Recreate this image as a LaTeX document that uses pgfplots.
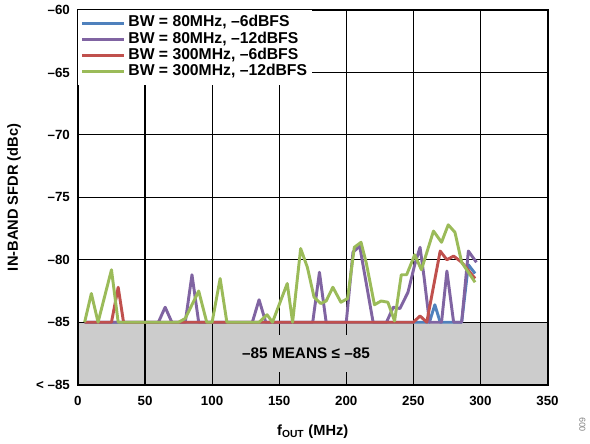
\documentclass[border=0pt]{standalone}
\usepackage{fontspec}
\setmainfont{Liberation Sans}
\usepackage{pgfplots}
\pgfplotsset{compat=1.18}
\definecolor{cblue}{HTML}{4F81BD}
\definecolor{cpurple}{HTML}{8064A2}
\definecolor{cred}{HTML}{C0504D}
\definecolor{cgreen}{HTML}{9BBB59}
\definecolor{shade}{HTML}{CCCCCC}
\begin{document}
\begin{tikzpicture}
\begin{axis}[
  set layers=standard,
  at={(0,0)}, anchor=south west,
  scale only axis, width=352.5pt, height=281.25pt,
  xmin=0, xmax=350, ymin=-90, ymax=-60,
  xtick={0,50,...,350}, xticklabels={0,50,100,150,200,250,300,350},
  ytick={-90,-85,...,-60}, yticklabels={< –85,–85,–80,–75,–70,–65,–60},
  tick align=inside, major tick length=9pt,
  tick style={black, line width=0.9pt},
  grid=major, major grid style={black, line width=0.9pt},
  axis line style={black, line width=1.5pt},
  ticklabel style={font=\bfseries\fontsize{10}{12}\selectfont},
  xticklabel style={yshift=-5pt},
  yticklabel style={xshift=-2.5pt},
  xlabel={f\textsubscript{OUT} (MHz)},
  ylabel={IN-BAND SFDR (dBc)},
  label style={font=\bfseries\fontsize{11}{13}\selectfont},
  xlabel style={at={(axis description cs:0.5,0)}, anchor=center, yshift=-35.25pt},
  ylabel style={at={(axis description cs:0,0.5)}, anchor=center, rotate=0, yshift=48pt},
  legend style={at={(0,1)}, anchor=north west, draw=none, fill=white,
    inner xsep=2pt, inner ysep=3.5pt,
    font=\bfseries\fontsize{11.8}{12.5}\selectfont,
    nodes={text height=7.8pt, text depth=2pt, inner ysep=1.2pt, inner xsep=2pt},
    cells={anchor=west}},
  legend image code/.code={\draw[#1] (0pt,0pt) -- (31.5pt,0pt);},
  ser/.style={line width=2.2pt, line join=round, mark=none},
]
\addplot[fill=shade, draw=none, on layer=axis background, forget plot]
  coordinates {(0,-90)(350,-90)(350,-85)(0,-85)} -- cycle;

% BW = 80 MHz, -6 dBFS
\addplot[ser, color=cblue] coordinates {
(5,-85)(60,-85)(120,-85)(200,-85)(262,-85)(266,-83.6)(270,-85)(286,-85)(291,-80.4)(296,-81.1)
};
\addlegendentry{BW = 80MHz, –6dBFS}
% BW = 80 MHz, -12 dBFS
\addplot[ser, color=cpurple] coordinates {
(5,-85)(60,-85)(65,-83.8)(70,-85)(80,-85)(85,-81.2)(90,-85)(130,-85)(135,-83.2)(140,-85)
(175,-85)(180,-81.0)(185,-85)(200,-85)(205,-79.4)(210,-78.9)(220,-85)(230,-85)(235,-83.8)
(240,-83.9)(246,-82.6)(251,-80.4)(255,-79.0)(258,-81.4)(262,-85)(271,-85)(275,-80.9)(280,-85)
(286,-85)(291,-79.3)(297,-80.2)
};
\addlegendentry{BW = 80MHz, –12dBFS}
% BW = 300 MHz, -6 dBFS
\addplot[ser, color=cred] coordinates {
(5,-85)(25,-85)(30,-82.2)(34,-85)(120,-85)(250,-85)(255,-84.5)(260,-85)(270,-79.3)(275,-80.0)
(280,-79.7)(286,-80.2)(296,-81.5)
};
\addlegendentry{BW = 300MHz, –6dBFS}
% BW = 300 MHz, -12 dBFS
\addplot[ser, color=cgreen] coordinates {
(5,-85)(10,-82.7)(15,-85)(25,-80.8)(30,-85)(75,-85)(80,-84.7)(90,-82.5)(96,-85)(100,-85)
(106,-81.5)(111,-85)(135,-85)(141,-84.4)(145,-85)(156,-81.9)(160,-85)(166,-79.1)(171,-80.6)
(176,-83.0)(181,-83.5)(185,-83.3)(190,-82.2)(196,-83.4)(201,-83.1)(206,-79.0)(211,-78.6)
(215,-80.3)(221,-83.6)(226,-83.3)(231,-83.4)(236,-84.9)(241,-81.2)(245,-81.2)(251,-79.6)
(256,-80.8)(265,-77.7)(271,-78.6)(276,-77.2)(281,-77.8)(286,-80.2)(296,-81.8)
};
\addlegendentry{BW = 300MHz, –12dBFS}

\node[fill=shade, inner xsep=5pt, minimum height=28pt,
  font=\bfseries\fontsize{11.5}{13}\selectfont] at (axis cs:170,-87.5) {–85 MEANS ≤ –85};
\end{axis}
\node[rotate=90, text=gray, font=\fontsize{6.5}{7}\selectfont] at (378.75pt,-30pt) {009};
\path (-58.5pt,-44.25pt) rectangle (384pt,288.75pt);
\end{tikzpicture}
\end{document}
